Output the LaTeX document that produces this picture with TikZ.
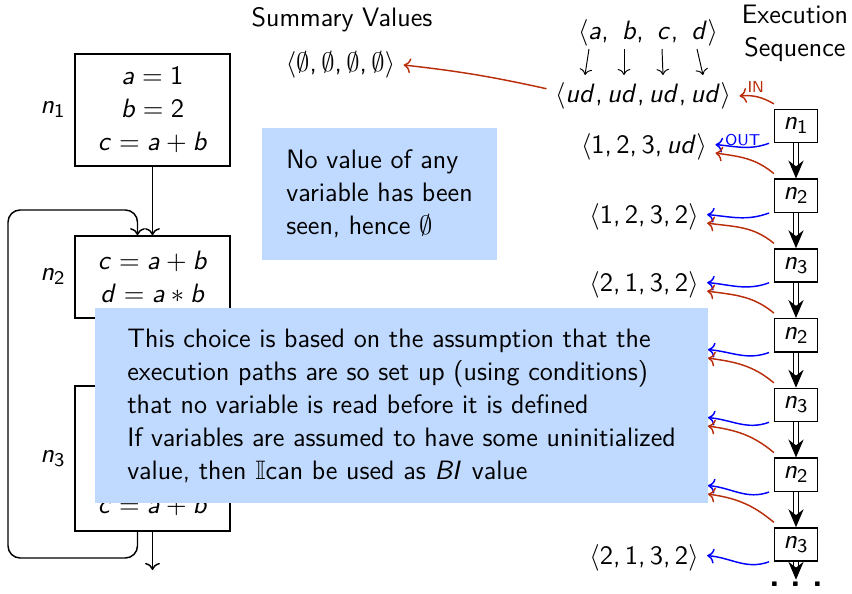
\documentclass[tikz,border=0pt]{standalone}
\usepackage{amssymb}
\usetikzlibrary{positioning,arrows.meta,calc}
\definecolor{notefill}{RGB}{192,217,255}
\definecolor{inred}{RGB}{185,45,10}
\definecolor{outblue}{RGB}{0,0,255}
% sans serif math, as on the slides
\SetSymbolFont{operators}{normal}{OT1}{cmss}{m}{n}
\SetSymbolFont{letters}{normal}{OT1}{cmss}{m}{sl}
\DeclareMathSymbol{,}{\mathpunct}{operators}{"2C}

\begin{document}
\begin{tikzpicture}[
        x=0.0145cm, y=0.0145cm,
        every node/.style={font=\sffamily\fontsize{11}{13.6}\selectfont},
        block/.style={rectangle, draw, semithick, minimum width=2.25cm, align=center, inner sep=2pt},
        seqbox/.style={rectangle, draw, semithick, minimum width=0.62cm, minimum height=0.48cm, inner sep=1pt},
        note/.style={rectangle, fill=notefill, align=left},
        flow/.style={-{To}, semithick},
        seqarr/.style={double, double distance=1.3pt, semithick, -{Stealth[length=2.6mm,width=2.2mm]}},
        inarr/.style={-{To}, semithick, inred},
        outarr/.style={-{To}, semithick, outblue},
        tag/.style={font=\sffamily\fontsize{6.5}{8}\selectfont}
    ]
    \useasboundingbox (0,0) rectangle (852,593);

    % control flow graph
    \node[block, minimum height=1.62cm, label=left:$n_1$] (n1) at (152.5,483) {$a=1$\\$b=2$\\$c=a+b$};
    \node[block, minimum height=1.19cm, label=left:$n_2$] (n2) at (152.5,316) {$c=a+b$\\$d=a*b$};
    \node[block, minimum height=2.1cm, label=left:$n_3$] (n3) at (152.5,134.5) {};
    \node (n3last) at ($(n3.south)+(0,26)$) {$c=a+b$};
    \coordinate (exit) at (152.5,23);
    \draw[flow] (n1) -- (n2);
    \draw[flow] (n2) -- (n3);
    \draw[flow, rounded corners=5pt] ($(n3.south)+(-15,0)$) |- (8,35) |- (137.5,383) -- ($(n2.north)+(-15,0)$);
    \draw[flow] (n3) -- (exit);

    % headings and initial values
    \node (sumtitle) at (342,573) {Summary Values};
    \node (empties) at (340.5,528) {$\langle\emptyset,\emptyset,\emptyset,\emptyset\rangle$};
    \node[align=center] (exectitle) at (795,560) {Execution\\Sequence};
    \node (vars) at (648,560) {$\langle a,\ b,\ c,\ d\rangle$};
    \node (init) at (643,497) {$\langle ud,ud,ud,ud\rangle$};
    \draw[-{To}] ($(vars.center)+(-59,-16)$) -- ($(init.center)+(-58,21)$);
    \draw[-{To}] ($(vars.center)+(-24,-16)$) -- ($(init.center)+(-19,21)$);
    \draw[-{To}] ($(vars.center)+(14,-16)$) -- ($(init.center)+(20,21)$);
    \draw[-{To}] ($(vars.center)+(49,-16)$) -- ($(init.center)+(60,21)$);
    \draw[inarr] ([yshift=3pt]init.west) to[bend right=3] (empties.east);

    % execution sequence
    \node[seqbox] (s1) at (796,467) {$n_1$};
    \node[seqbox, below=0.51cm of s1] (s2) {$n_2$};
    \node[seqbox, below=0.51cm of s2] (s3) {$n_3$};
    \node[seqbox, below=0.51cm of s3] (s4) {$n_2$};
    \node[seqbox, below=0.51cm of s4] (s5) {$n_3$};
    \node[seqbox, below=0.51cm of s5] (s6) {$n_2$};
    \node[seqbox, below=0.51cm of s6] (s7) {$n_3$};
    \coordinate[below=0.26cm of s7] (seqend);
    \node[inner sep=0pt] (more) at (796,9) {\Large\bfseries .\kern4.5pt.\kern4.5pt.};
    \draw[seqarr] (s1) -- (s2);
    \draw[seqarr] (s2) -- (s3);
    \draw[seqarr] (s3) -- (s4);
    \draw[seqarr] (s4) -- (s5);
    \draw[seqarr] (s5) -- (s6);
    \draw[seqarr] (s6) -- (s7);
    \draw[seqarr] (s7) -- (seqend);

    % values after each node
    \node (out1) at (644,446) {$\langle 1,2,3,ud\rangle$};
    \node (out2) at (644,376) {$\langle 1,2,3,2\rangle$};
    \node (out3) at (644,308) {$\langle 2,1,3,2\rangle$};
    \coordinate (out4) at (708,241);
    \coordinate (out5) at (708,173);
    \coordinate (out6) at (708,105);
    \node (out7) at (644,35) {$\langle 2,1,3,2\rangle$};

    \draw[inarr] ([yshift=2pt]s1.north west) to[out=150,in=5] node[tag, above=-2pt, pos=.55, inred] {IN} (init.east);
    \draw[outarr] ([xshift=-2pt]s1.south west) to[out=200,in=-5] node[tag, above=-3pt, pos=.5, outblue] {OUT} ([yshift=1pt]out1.east);
    \draw[inarr] ([yshift=2pt]s2.north west) to[out=140,in=-8] ([yshift=-2.5pt]out1.east);
    \draw[outarr] ([xshift=-2pt]s2.south west) to[out=200,in=-5] ([yshift=1pt]out2.east);
    \draw[inarr] ([yshift=2pt]s3.north west) to[out=140,in=-8] ([yshift=-2.5pt]out2.east);
    \draw[outarr] ([xshift=-2pt]s3.south west) to[out=200,in=-5] ([yshift=1pt]out3.east);
    \draw[inarr] ([yshift=2pt]s4.north west) to[out=140,in=-8] ([yshift=-2.5pt]out3.east);
    \draw[outarr] ([xshift=-2pt]s4.south west) to[out=200,in=-5] ([yshift=1pt]out4);
    \draw[inarr] ([yshift=2pt]s5.north west) to[out=140,in=-8] ([yshift=-2.5pt]out4);
    \draw[outarr] ([xshift=-2pt]s5.south west) to[out=200,in=-5] ([yshift=1pt]out5);
    \draw[inarr] ([yshift=2pt]s6.north west) to[out=140,in=-8] ([yshift=-2.5pt]out5);
    \draw[outarr] ([xshift=-2pt]s6.south west) to[out=200,in=-5] ([yshift=1pt]out6);
    \draw[inarr] ([yshift=2pt]s7.north west) to[out=140,in=-8] ([yshift=-2.5pt]out6);
    \draw[outarr] ([xshift=-2pt]s7.south west) to[out=200,in=-5] ([yshift=1pt]out7.east);

    % remarks
    \node[note, minimum width=3.41cm, minimum height=1.91cm] (note1) at (379.5,399) {No value of any\\variable has been\\seen, hence $\emptyset$};
    \node[note, minimum width=8.89cm, minimum height=2.83cm] (note2) at (401.5,187.5) {This choice is based on the assumption that the\\execution paths are so set up (using conditions)\\that no variable is read before it is defined\\If variables are assumed to have some uninitialized\\value, then $\mathbb{I}$can be used as $BI$ value};
\end{tikzpicture}
\end{document}
